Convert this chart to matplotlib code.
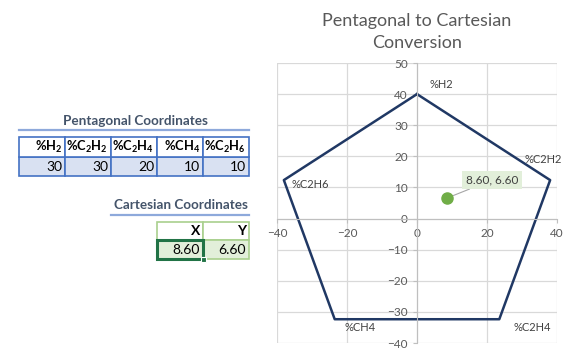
import matplotlib.pyplot as plt
from matplotlib.patches import Rectangle

plt.rcParams['font.family'] = ['Lato', 'DejaVu Sans']
plt.rcParams['mathtext.fontset'] = 'custom'
plt.rcParams['mathtext.rm'] = 'Lato'
plt.rcParams['mathtext.bf'] = 'Lato:bold'

# data
gases = ['%H2', '%C2H2', '%C2H4', '%CH4', '%C2H6']
gas_headers = [r'$\mathbf{\%H_2}$', r'$\mathbf{\%C_2H_2}$', r'$\mathbf{\%C_2H_4}$',
               r'$\mathbf{\%CH_4}$', r'$\mathbf{\%C_2H_6}$']
percent = [30, 30, 20, 10, 10]
vert_x = [0, 38.04, 23.51, -23.51, -38.04]
vert_y = [40, 12.36, -32.36, -32.36, 12.36]
cart_x = 8.60
cart_y = 6.60
xticks = [-40, -20, 0, 20, 40]
yticks = [-40, -30, -20, -10, 0, 10, 20, 30, 40, 50]

fig = plt.figure(figsize=(5.71, 3.54), dpi=100)

# background layer in pixel coords for the sheet part
bg = fig.add_axes([0, 0, 1, 1])
bg.set_xlim(0, 571)
bg.set_ylim(354, 0)
bg.axis('off')

title_col = '#44546A'
bg.text(135, 121, 'Pentagonal Coordinates', ha='center', va='center',
        fontsize=9.7, fontweight='bold', color=title_col)
bg.plot([19, 249], [130, 130], color='#8EA9DB', lw=1.6)

edges = [19, 65, 111, 157, 203, 249]
for i in range(5):
    bg.add_patch(Rectangle((edges[i], 157), 46, 19, facecolor='#D9E1F2',
                           edgecolor='#4472C4', lw=1.2))
    bg.add_patch(Rectangle((edges[i], 137), 46, 20, facecolor='white',
                           edgecolor='#4472C4', lw=1.2))
    bg.text(edges[i + 1] - 3, 147, gas_headers[i], ha='right', va='center',
            fontsize=9.3, color='black')
    bg.text(edges[i + 1] - 3, 167, str(percent[i]), ha='right', va='center',
            fontsize=10, color='black')

bg.text(181, 205, 'Cartesian Coordinates', ha='center', va='center',
        fontsize=9.7, fontweight='bold', color=title_col)
bg.plot([111, 249], [215, 215], color='#8EA9DB', lw=1.6)

cart_vals = [cart_x, cart_y]
for i, lab in enumerate(['X', 'Y']):
    x0 = 157 + 46 * i
    bg.add_patch(Rectangle((x0, 222), 46, 18, facecolor='white',
                           edgecolor='#A9D08E', lw=1.2))
    bg.add_patch(Rectangle((x0, 240), 46, 19, facecolor='#E2EFDA',
                           edgecolor='#A9D08E', lw=1.2))
    bg.text(x0 + 43, 231, lab, ha='right', va='center', fontsize=10,
            fontweight='bold')
    bg.text(x0 + 43, 250, f'{cart_vals[i]:.2f}', ha='right', va='center',
            fontsize=10)
bg.add_patch(Rectangle((157, 240), 46, 19, facecolor='none',
                       edgecolor='#217346', lw=2.2))
bg.add_patch(Rectangle((201, 257), 5, 5, facecolor='#217346',
                       edgecolor='white', lw=0.8))

# chart
ax = fig.add_axes([277 / 571, 1 - 343 / 354, 280 / 571, 280 / 354])
ax.set_xlim(-40, 40)
ax.set_ylim(-40, 50)
ax.set_xticks(xticks)
ax.set_yticks(yticks)
ax.grid(True, color='#D9D9D9', lw=0.9)
ax.set_axisbelow(True)
for s in ['top', 'right']:
    ax.spines[s].set_visible(False)
ax.spines['left'].set_position(('data', 0))
ax.spines['bottom'].set_position(('data', 0))
ax.spines['left'].set_color('#BFBFBF')
ax.spines['bottom'].set_color('#BFBFBF')
ax.tick_params(colors='#BFBFBF', labelcolor='#595959', labelsize=8.5, length=3)
ax.patch.set_alpha(0)

px = vert_x + [vert_x[0]]
py = vert_y + [vert_y[0]]
ax.plot(px, py, color='#203864', lw=1.8, clip_on=False)

offsets = [(24, 10), (-7, 21), (33, -8), (25, -8), (26, -4)]
for i, g in enumerate(gases):
    ax.annotate(g, (vert_x[i], vert_y[i]), xytext=offsets[i],
                textcoords='offset pixels', ha='center', va='center',
                fontsize=8, color='#404040', annotation_clip=False)

ax.plot([cart_x], [cart_y], 'o', color='#70AD47', ms=8, zorder=5)
ax.annotate(f'{cart_x:.2f}, {cart_y:.2f}', (cart_x, cart_y), xytext=(45, 18),
            textcoords='offset pixels', ha='center', va='center', fontsize=8.5,
            color='#404040',
            bbox=dict(boxstyle='square,pad=0.3', fc='#E2EFDA', ec='none'),
            arrowprops=dict(arrowstyle='-', color='#A6A6A6', lw=0.8,
                            shrinkA=0, shrinkB=4))

fig.text(417 / 571, 1 - 32 / 354, 'Pentagonal to Cartesian\nConversion',
         ha='center', va='center', fontsize=13, color='#595959',
         linespacing=1.4)

fig.savefig('out.png', dpi=100)
